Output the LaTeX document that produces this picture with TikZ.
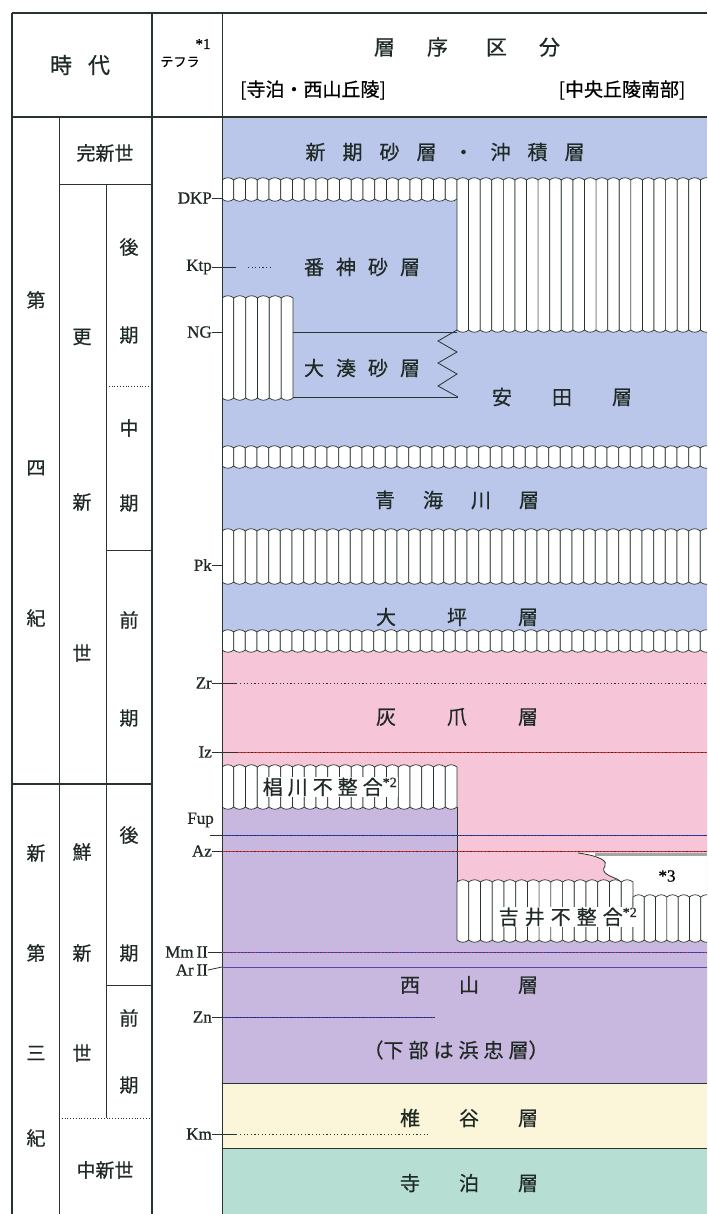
\documentclass[tikz,border=0pt]{standalone}
\usepackage{fontspec}
\setmainfont{Liberation Serif}
\newfontfamily\jp{Noto Sans CJK JP}[FakeBold=0.6]
\newfontfamily\tf{Liberation Serif}[FakeBold=0.8]
\definecolor{cblue}{RGB}{186,198,234}
\definecolor{cpink}{RGB}{246,198,216}
\definecolor{cpurp}{RGB}{200,184,224}
\definecolor{cyell}{RGB}{251,246,218}
\definecolor{cgreen}{RGB}{182,222,210}
\definecolor{ink}{RGB}{40,52,46}
\definecolor{lblue}{RGB}{40,60,190}
\definecolor{lred}{RGB}{225,40,40}
\definecolor{lpurp}{RGB}{90,70,170}
\newcommand\gap[1]{\hspace{#1pt}}
\newcommand\uband[5]{%
  \pgfmathsetmacro\cw{(#2-#1)/#5}%
  \foreach \k in {1,...,#5}{%
    \pgfmathsetmacro\xa{#1+(\k-1)*\cw}%
    \pgfmathsetmacro\xb{\xa+\cw}%
    \filldraw[band] (\xa,#3) .. controls (\xa+0.3*\cw,#3-3) and (\xb-0.3*\cw,#3-3) .. (\xb,#3)
      -- (\xb,#4) .. controls (\xb-0.3*\cw,#4+3) and (\xa+0.3*\cw,#4+3) .. (\xa,#4) -- cycle;
  }}
\tikzset{
  jpt/.style={font=\jp\fontsize{20}{20}\selectfont, inner sep=0pt, text=ink!80!black},
  col/.style={font=\jp\fontsize{19}{19}\selectfont, inner sep=0pt, text=ink!80!black},
  teph/.style={font=\tf\fontsize{17}{17}\selectfont, anchor=east, inner sep=0pt, text=ink!80!black},
  frame/.style={line width=1.8pt, draw=ink},
  thin/.style={line width=0.8pt, draw=ink},
  band/.style={fill=white, draw=ink, line width=0.7pt},
  dots/.style={draw=ink, line width=0.9pt, dash pattern=on 1.2pt off 2.4pt},
}
\begin{document}
\begin{tikzpicture}[x=1pt,y=-1pt]
\useasboundingbox (0,0) rectangle (707,1214);
\fill[white] (0,0) rectangle (707,1214);
% ---------- colour layers
\fill[cblue] (222,117) rectangle (707,650);
\fill[cpink] (222,650) -- (707,650) -- (707,897) -- (457,897) -- (457,807) -- (222,807) -- cycle;
\fill[cpurp] (222,807) -- (457,807) -- (457,940) -- (707,940) -- (707,1083) -- (222,1083) -- cycle;
\fill[cyell] (222,1083) rectangle (707,1148);
\fill[cgreen] (222,1148) rectangle (707,1214);
\draw[thin] (222,1083) -- (707,1083);
\draw[thin] (222,1148) -- (707,1148);
% *3 region
\fill[white] (578,853) -- (707,853) -- (707,897) -- (633,897) .. controls (628,890) and (625,884) .. (617,879)
  .. controls (610,876) and (600,873) .. (605,866) .. controls (608,861) and (600,856) .. (578,853) -- cycle;
\draw[thin] (633,897) .. controls (628,890) and (625,884) .. (617,879)
  .. controls (610,876) and (600,873) .. (605,866) .. controls (608,861) and (600,856) .. (578,853);
\fill[black!35] (595,853) rectangle (707,856);
% ---------- bands
\begin{scope}
\clip (222,117) rectangle (707,1214);
\uband{222}{457}{180}{199}{20}
\uband{457}{712}{180}{330}{22}
\uband{222}{293}{298}{398}{6}
\uband{222}{712}{448}{466}{42}
\uband{222}{712}{531}{582}{42}
\uband{222}{712}{632}{650}{42}
\uband{222}{457}{767}{807}{20}
\uband{457}{633}{882}{940}{15}
\uband{633}{712}{897}{940}{7}
\end{scope}
\draw[thin] (457,807) -- (457,882);
% Ominato sand
\draw[thin] (293,332) -- (457,332);
\draw[thin] (293,397) -- (458,397);
\draw[thin] (457,330) -- (438,341) -- (457,352) -- (438,363) -- (457,374) -- (438,386) -- (458,397);
% ---------- frame
\draw[frame] (12,13) -- (707,13);
\draw[frame] (12,117) -- (707,117);
\draw[frame] (12,13) -- (12,1214);
\draw[frame] (152,13) -- (152,1214);
\draw[thin] (222,13) -- (222,1214);
\draw[thin] (59,117) -- (59,1214);
\draw[thin] (106,184) -- (106,1118);
\draw[thin] (59,184) -- (152,184);
\draw[thin, dotted] (106,386) -- (152,386);
\draw[thin] (106,550) -- (152,550);
\draw[frame] (12,784) -- (152,784);
\draw[thin] (106,985) -- (152,985);
\draw[thin, dotted] (59,1118) -- (152,1118);
% ---------- header
\node[jpt, font=\jp\fontsize{22}{22}\selectfont] (hjidai) at (80,65) {時\gap{16}代};
\node[font=\jp\fontsize{13}{13}\selectfont, inner sep=0pt] (hteph) at (180,62) {テフラ};
\node[font=\tf\fontsize{15}{15}\selectfont, inner sep=0pt] (hstar) at (203,44) {*1};
\node[jpt, font=\jp\fontsize{21}{21}\selectfont] (hsoujo) at (467,47) {層\gap{32}序\gap{38}区\gap{32}分};
\node[font=\jp\fontsize{19}{19}\selectfont, inner sep=0pt] (hleft) at (313,90) {[寺泊・西山丘陵]};
\node[font=\jp\fontsize{19}{19}\selectfont, inner sep=0pt] (hright) at (622,90) {[中央丘陵南部]};
% ---------- era columns
\node[col] (q1) at (36,300) {第};
\node[col] (q2) at (36,468) {四};
\node[col] (q3) at (36,618) {紀};
\node[col] (n1) at (36,853) {新};
\node[col] (n2) at (36,953) {第};
\node[col] (n3) at (36,1053) {三};
\node[col] (n4) at (36,1138) {紀};
\node[col] (holo) at (105,153) {完新世};
\node[col] (p1) at (82,337) {更};
\node[col] (p2) at (82,502) {新};
\node[col] (p3) at (82,653) {世};
\node[col] (l1) at (82,852) {鮮};
\node[col] (l2) at (82,953) {新};
\node[col] (l3) at (82,1053) {世};
\node[col] (mio) at (105,1170) {中新世};
\node[col] (a1) at (129,247) {後};
\node[col] (a2) at (129,335) {期};
\node[col] (b1) at (129,428) {中};
\node[col] (b2) at (129,503) {期};
\node[col] (c1) at (129,620) {前};
\node[col] (c2) at (129,718) {期};
\node[col] (d1) at (129,835) {後};
\node[col] (d2) at (129,953) {期};
\node[col] (e1) at (129,1018) {前};
\node[col] (e2) at (129,1085) {期};
% ---------- tephra labels and lines
\node[teph] (dkp) at (212,198) {DKP};
\draw[thin] (dkp.east) -- (222,198);
\node[teph] (ktp) at (212,267) {Ktp};
\draw[thin] (ktp.east) -- (236,267);
\draw[dots] (248,267) -- (272,267);
\node[teph] (ng) at (212,332) {NG};
\draw[thin] (ng.east) -- (222,332);
\node[teph] (pk) at (212,565) {Pk};
\draw[thin] (pk.east) -- (222,565);
\node[teph] (zr) at (212,683) {Zr};
\draw[thin] (zr.east) -- (237,683);
\draw[dots] (240,683) -- (707,683);
\node[teph] (iz) at (212,752) {Iz};
\draw[thin] (iz.east) -- (237,752);
\draw[lred, line width=0.7pt] (237,752) -- (707,752);
\draw[dots] (237,752) -- (707,752);
\node[teph] (fup) at (214,820) {Fup};
\draw[thin] (210,835) -- (222,835);
\draw[lblue, line width=0.7pt] (222,835) -- (707,835);
\draw[dots] (222,835) -- (707,835);
\node[teph] (az) at (212,851) {Az};
\draw[thin] (az.east) -- (222,851);
\draw[lred, line width=0.7pt] (222,851) -- (707,851);
\draw[dots] (222,851) -- (707,851);
\node[teph] (mm) at (208,952) {Mm\,II};
\draw[thin] (mm.east) -- (222,952);
\draw[lblue, line width=0.7pt] (222,952) -- (707,952);
\draw[lred, line width=0.9pt, dash pattern=on 1.2pt off 2.4pt] (222,952) -- (707,952);
\node[teph] (ar) at (208,970) {Ar\,II};
\draw[thin] (ar.east) -- (222,967);
\draw[lpurp, line width=0.8pt] (222,967) -- (707,967);
\node[teph] (zn) at (212,1017) {Zn};
\draw[thin] (zn.east) -- (222,1017);
\draw[lblue, line width=0.7pt] (222,1017) -- (435,1017);
\draw[dots] (222,1017) -- (435,1017);
\node[teph] (km) at (212,1134) {Km};
\draw[thin] (km.east) -- (237,1134);
\draw[dots] (240,1134) -- (430,1134);
% ---------- formation names
\node[jpt] (f1) at (445,152) {新\gap{17}期\gap{17}砂\gap{17}層\gap{17}・\gap{17}沖\gap{17}積\gap{17}層};
\node[jpt] (f2) at (362,267) {番\gap{12}神\gap{12}砂\gap{12}層};
\node[jpt] (f3) at (362,368) {大\gap{12}湊\gap{12}砂\gap{12}層};
\node[jpt] (f4) at (562,397) {安\gap{40}田\gap{40}層};
\node[jpt] (f5) at (457,500) {青\gap{28}海\gap{28}川\gap{28}層};
\node[jpt] (f6) at (457,617) {大\gap{51}坪\gap{51}層};
\node[jpt] (f7) at (457,717) {灰\gap{51}爪\gap{51}層};
\node[jpt, fill=white, inner sep=1pt] (f8) at (330,787) {椙\gap{5}川\gap{5}不\gap{5}整\gap{5}合\textsuperscript{\tf *2}};
\node[jpt, fill=white, inner sep=1pt] (f9) at (568,917) {吉\gap{6}井\gap{6}不\gap{6}整\gap{6}合\textsuperscript{\tf *2}};
\node[font=\tf\fontsize{17}{17}\selectfont, inner sep=0pt] (s3) at (667,876) {*3};
\node[jpt] (f10) at (469,985) {西\gap{39}山\gap{39}層};
\node[jpt] (f11) at (456,1050) {（下\gap{5}部\gap{5}は\gap{5}浜\gap{5}忠\gap{5}層）};
\node[jpt] (f12) at (469,1118) {椎\gap{39}谷\gap{39}層};
\node[jpt] (f13) at (469,1183) {寺\gap{39}泊\gap{39}層};
\end{tikzpicture}
\end{document}
